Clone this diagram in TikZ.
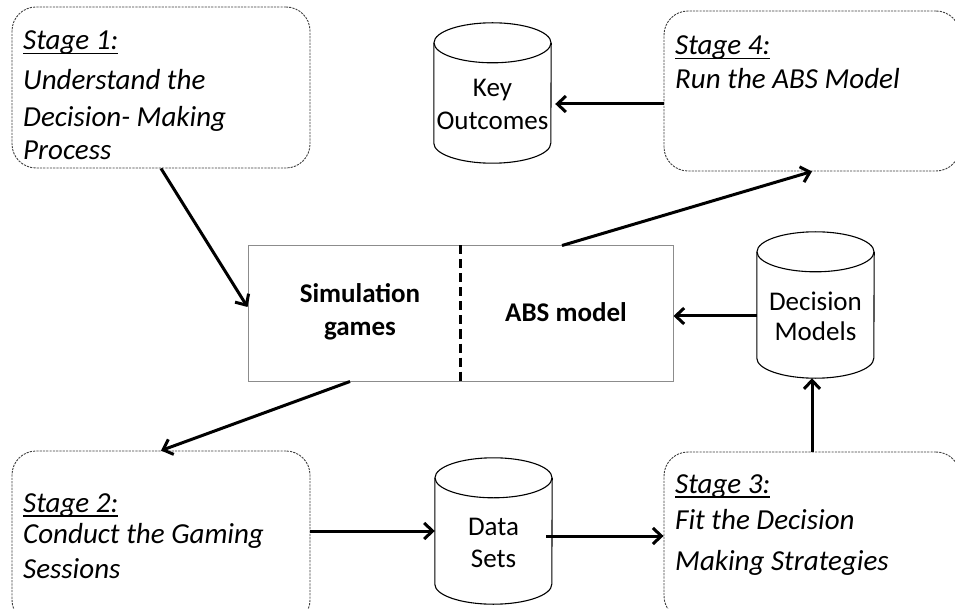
\documentclass[tikz,border=0pt]{standalone}
\usepackage{fontspec}
\setmainfont{Carlito}
\usetikzlibrary{arrows.meta,calc}
\newcommand{\ulin}[1]{\setbox0\hbox{#1}\rlap{\rule[-4.5pt]{\wd0}{1.8pt}}\box0}
\newcommand{\drawcyl}[1]{%
  \draw[cylline] ([yshift=-20pt]#1.north) ellipse[x radius=58.5pt, y radius=20pt];
  \draw[cylline] ([yshift=-20pt]#1.north west) -- ([yshift=20pt]#1.south west)
    arc[start angle=180, end angle=360, x radius=58.5pt, y radius=20pt]
    -- ([yshift=-20pt]#1.north east);}
\newcommand{\stagelines}[1]{\begin{tabular}[t]{@{}l@{}}#1\end{tabular}}
\begin{document}
\begin{tikzpicture}[x=1pt,y=-1pt,
  stagebox/.style={draw=black!75, line width=0.9pt, dash pattern=on 2.2pt off 1.1pt, rounded corners=24pt, inner sep=0pt},
  stagetext/.style={anchor=base west, inner sep=0pt, font=\fontsize{29pt}{30pt}\selectfont\itshape},
  cyltext/.style={align=center, inner sep=0pt, font=\fontsize{27pt}{33pt}\selectfont},
  boldtext/.style={align=center, inner sep=0pt, font=\fontsize{27pt}{33pt}\selectfont\bfseries},
  cylshape/.style={inner sep=0pt, minimum width=117pt},
  cylline/.style={draw=black, line width=1.1pt},
  arr/.style={line width=3pt, -{Straight Barb[length=8.5pt,width=16pt]}},
]
\fill[white] (0,0) rectangle (955,609);
\useasboundingbox (0,0) rectangle (955,609);

% stage boxes
\node[stagebox, minimum width=298pt, minimum height=161pt] (s1) at (161,87.5) {};
\node[stagebox, minimum width=296pt, minimum height=160pt] (s4) at (812,91) {};
\node[stagebox, minimum width=298pt, minimum height=173pt] (s2) at (161,537.5) {};
\node[stagebox, minimum width=296pt, minimum height=168pt] (s3) at (812,536) {};

\node[stagetext] (s1t) at (23,50) {\stagelines{\ulin{Stage 1:}\\[10pt]Understand the\\[7pt]Decision- Making\\[3pt]Process}};
\node[stagetext] (s4t) at (675,55) {\stagelines{\ulin{Stage 4:}\\[4pt]Run the ABS Model}};
\node[stagetext] (s2t) at (23,512) {\stagelines{\ulin{Stage 2:}\\[1pt]Conduct the Gaming\\[5pt]Sessions}};
\node[stagetext] (s3t) at (675,493) {\stagelines{\ulin{Stage 3:}\\[6pt]Fit the Decision\\[11pt]Making Strategies}};

% central box
\node[draw=black!45, line width=1pt, minimum width=425pt, minimum height=135pt, inner sep=0pt] (sim) at (460.5,313.5) {};
\draw[line width=3pt, dash pattern=on 9pt off 5pt] (sim.north) -- (sim.south);
\node[boldtext] (simt) at (360,311.5) {Simulation\\games};
\node[boldtext] (abst) at (566,312) {ABS model};

% cylinders
\node[cylshape, minimum height=140pt] (ko) at (492.5,93) {};
\node[cylshape, minimum height=146pt] (ds) at (493.5,531) {};
\node[cylshape, minimum height=146pt] (dm) at (815.5,305) {};
\drawcyl{ko}
\drawcyl{ds}
\drawcyl{dm}
\node[cyltext] (kot) at (492.5,104) {Key\\Outcomes};
\node[cyltext, font=\fontsize{27pt}{32pt}\selectfont] (dst) at (493.5,543) {Data\\Sets};
\node[cyltext, font=\fontsize{27pt}{30pt}\selectfont] (dmt) at (815.5,316) {Decision\\Models};

% connectors
\draw[arr] (s1.south) -- ([yshift=6.5pt]sim.west);
\draw[arr] ([xshift=-110.5pt]sim.south) -- (s2.north);
\draw[arr] (s2.east |- ds.west) -- (ds.west);
\draw[arr] ($(ds.east |- s3.west)+(-6,0)$) -- (s3.west);
\draw[arr] (s3.north) -- (s3.north |- dm.south);
\draw[arr] (dm.west |- dmt) -- (sim.east |- dmt);
\draw[arr] ([xshift=101.5pt]sim.north) -- (s4.south);
\draw[arr] (s4.west |- kot) -- ($(ko.east |- kot)+(4,0)$);
\end{tikzpicture}
\end{document}
